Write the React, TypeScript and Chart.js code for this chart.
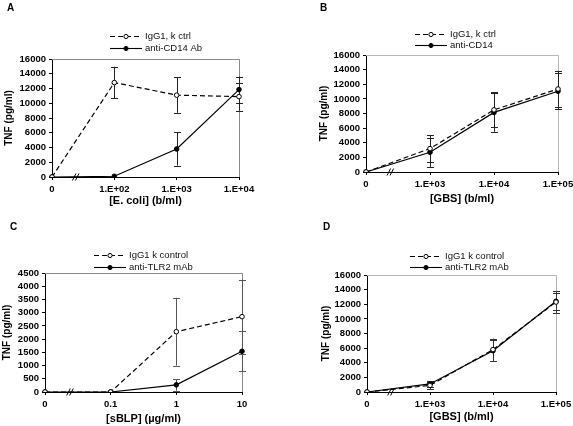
import React, { useEffect, useRef } from 'react';
import { Chart, registerables } from 'chart.js';

Chart.register(...registerables);

// ---------- Data ----------
const aCats = ['0', '1.E+02', '1.E+03', '1.E+04'];
const aCtrl = [0, 12800, 11100, 10900];
const aCtrlErr = [0, 2150, 2400, 1900];
const aAnti = [0, 100, 3800, 11850];
const aAntiErr = [0, 0, 2250, 1750];
const aNames = ['IgG1, k ctrl', 'anti-CD14 Ab'];
const aYTicks = [0, 16000, 2000];

const bCats = ['0', '1.E+03', '1.E+04', '1.E+05'];
const bCtrl = [0, 3200, 8500, 11350];
const bCtrlErr = [0, 1850, 2400, 2500];
const bAnti = [0, 2700, 8150, 11050];
const bAntiErr = [0, 2000, 2650, 2500];
const bNames = ['IgG1, k ctrl', 'anti-CD14'];
const bYTicks = [0, 16000, 2000];

const cCats = ['0', '0.1', '1', '10'];
const cCtrl = [0, 0, 2280, 2850];
const cCtrlErr = [0, 0, 1280, 1400];
const cAnti = [0, 0, 270, 1540];
const cAntiErr = [0, 0, 220, 750];
const cNames = ['IgG1 k control', 'anti-TLR2 mAb'];
const cYTicks = [0, 4500, 500];

const dCats = ['0', '1.E+03', '1.E+04', '1.E+05'];
const dCtrl = [0, 900, 5800, 12300];
const dCtrlErr = [0, 500, 1500, 1500];
const dAnti = [0, 1100, 5650, 12400];
const dAntiErr = [0, 400, 1450, 1200];
const dNames = ['IgG1 k control', 'anti-TLR2 mAb'];
const dYTicks = [0, 16000, 2000];

const FAMILY = 'Arial, "Liberation Sans", Helvetica, sans-serif';

type PanelCfg = {
  letter: string;
  cats: string[];
  ctrl: number[];
  ctrlErr: number[];
  anti: number[];
  antiErr: number[];
  names: string[];
  yTicks: number[];
  xTitle: string;
  x: number; y: number; w: number; h: number;
  L: number; T: number; R: number; B: number;
  padL: number; XH: number;
  legendX: number; legendY: number[];
  letterPos: number[];
  frame: string;
  errColor: string;
};

const panels: PanelCfg[] = [
  {
    letter: 'A', cats: aCats, ctrl: aCtrl, ctrlErr: aCtrlErr, anti: aAnti, antiErr: aAntiErr,
    names: aNames, yTicks: aYTicks, xTitle: '[E. coli] (b/ml)',
    x: 0, y: 0, w: 287, h: 210, L: 52, T: 59, R: 239, B: 177, padL: 3, XH: 31,
    legendX: 110, legendY: [36, 48], letterPos: [7, 3], frame: '#8a8a8a', errColor: '#222',
  },
  {
    letter: 'B', cats: bCats, ctrl: bCtrl, ctrlErr: bCtrlErr, anti: bAnti, antiErr: bAntiErr,
    names: bNames, yTicks: bYTicks, xTitle: '[GBS] (b/ml)',
    x: 286, y: 0, w: 287, h: 210, L: 80, T: 55, R: 272, B: 172, padL: 32, XH: 34,
    legendX: 129, legendY: [34, 45], letterPos: [34, 3], frame: '#b5b5b5', errColor: '#222',
  },
  {
    letter: 'C', cats: cCats, ctrl: cCtrl, ctrlErr: cCtrlErr, anti: cAnti, antiErr: cAntiErr,
    names: cNames, yTicks: cYTicks, xTitle: '[sBLP] (\u00b5g/ml)',
    x: 0, y: 210, w: 287, h: 216, L: 45, T: 63, R: 242, B: 182, padL: 1, XH: 34,
    legendX: 94, legendY: [45, 57], letterPos: [10, 12], frame: '#8a8a8a', errColor: '#555',
  },
  {
    letter: 'D', cats: dCats, ctrl: dCtrl, ctrlErr: dCtrlErr, anti: dAnti, antiErr: dAntiErr,
    names: dNames, yTicks: dYTicks, xTitle: '[GBS] (b/ml)',
    x: 286, y: 210, w: 287, h: 216, L: 81, T: 65, R: 270, B: 182, padL: 34, XH: 32,
    legendX: 124, legendY: [46, 57], letterPos: [37, 12], frame: '#b5b5b5', errColor: '#333',
  },
];

const decoPlugin = {
  id: 'deco',
  beforeDatasetsDraw(chart: any, _args: any, opts: any) {
    const ctx = chart.ctx;
    const ca = chart.chartArea;
    ctx.save();
    ctx.strokeStyle = opts.frame;
    ctx.lineWidth = 1;
    ctx.beginPath();
    ctx.moveTo(ca.left, ca.top + 0.5);
    ctx.lineTo(ca.right + 0.5, ca.top + 0.5);
    ctx.lineTo(ca.right + 0.5, ca.bottom);
    ctx.stroke();
    const ys = chart.scales.y;
    ctx.strokeStyle = opts.errColor;
    ctx.lineWidth = 1;
    opts.errs.forEach((errs: number[], di: number) => {
      const meta = chart.getDatasetMeta(di);
      const vals = chart.data.datasets[di].data as number[];
      errs.forEach((e, j) => {
        if (!e) return;
        const px = Math.round(meta.data[j].x) + 0.5;
        const yt = ys.getPixelForValue(vals[j] + e);
        const yb = ys.getPixelForValue(Math.max(0, vals[j] - e));
        ctx.beginPath();
        ctx.moveTo(px, yt);
        ctx.lineTo(px, yb);
        ctx.moveTo(px - 3.5, Math.round(yt) + 0.5);
        ctx.lineTo(px + 3.5, Math.round(yt) + 0.5);
        ctx.moveTo(px - 3.5, Math.round(yb) + 0.5);
        ctx.lineTo(px + 3.5, Math.round(yb) + 0.5);
        ctx.stroke();
      });
    });
    ctx.restore();
  },
  afterDraw(chart: any, _args: any, opts: any) {
    const ctx = chart.ctx;
    const ca = chart.chartArea;
    const xs = chart.scales.x;
    ctx.save();
    const x0 = xs.getPixelForValue(0);
    const x1 = xs.getPixelForValue(1);
    const bx = x0 + (x1 - x0) * 0.38;
    const by = ca.bottom;
    ctx.strokeStyle = '#000';
    ctx.lineWidth = 1;
    for (const dx of [-1.5, 1.5]) {
      ctx.beginPath();
      ctx.moveTo(bx + dx - 1.8, by + 3.5);
      ctx.lineTo(bx + dx + 1.8, by - 3.5);
      ctx.stroke();
    }
    ctx.font = `9.5px ${FAMILY}`;
    ctx.textBaseline = 'middle';
    ctx.textAlign = 'left';
    const lx = opts.legendX;
    const len = 32;
    chart.data.datasets.forEach((ds: any, i: number) => {
      const ly = opts.legendY[i];
      ctx.strokeStyle = '#000';
      ctx.lineWidth = 1.1;
      ctx.setLineDash(i === 0 ? [5, 3] : []);
      ctx.beginPath();
      ctx.moveTo(lx, ly + 0.5);
      ctx.lineTo(lx + len, ly + 0.5);
      ctx.stroke();
      ctx.setLineDash([]);
      ctx.beginPath();
      ctx.arc(lx + len / 2, ly + 0.5, 2.1, 0, Math.PI * 2);
      ctx.fillStyle = i === 0 ? '#fff' : '#000';
      ctx.fill();
      ctx.lineWidth = 1;
      ctx.stroke();
      ctx.fillStyle = '#111';
      ctx.fillText(ds.label, lx + len + 3, ly + 0.5);
    });
    ctx.font = `bold 10px ${FAMILY}`;
    ctx.textBaseline = 'top';
    ctx.fillStyle = '#000';
    ctx.fillText(opts.letter, opts.letterPos[0], opts.letterPos[1]);
    ctx.restore();
  },
};

function Panel({ cfg }: { cfg: PanelCfg }) {
  const ref = useRef<HTMLCanvasElement>(null);
  useEffect(() => {
    const YW = cfg.L - cfg.padL;
    const tickFont = { family: FAMILY, size: 9.5, weight: 'bold' as const };
    const chart = new Chart(ref.current!, {
      type: 'line',
      data: {
        labels: cfg.cats,
        datasets: [
          {
            label: cfg.names[0], data: cfg.ctrl, borderColor: '#000', borderWidth: 1.2,
            borderDash: [5, 3], pointRadius: 2.3, pointBackgroundColor: '#fff',
            pointBorderColor: '#000', pointBorderWidth: 1, tension: 0, fill: false,
          },
          {
            label: cfg.names[1], data: cfg.anti, borderColor: '#000', borderWidth: 1.2,
            pointRadius: 2.3, pointBackgroundColor: '#000', pointBorderColor: '#000',
            pointBorderWidth: 1, tension: 0, fill: false,
          },
        ],
      },
      options: {
        responsive: false,
        animation: false,
        devicePixelRatio: 1,
        events: [],
        layout: {
          padding: {
            left: cfg.padL,
            right: cfg.w - cfg.R,
            top: cfg.T,
            bottom: cfg.h - cfg.B - cfg.XH,
          },
        },
        plugins: {
          legend: { display: false },
          tooltip: { enabled: false },
          deco: {
            errs: [cfg.ctrlErr, cfg.antiErr],
            frame: cfg.frame,
            errColor: cfg.errColor,
            legendX: cfg.legendX,
            legendY: cfg.legendY,
            letter: cfg.letter,
            letterPos: cfg.letterPos,
          },
        } as any,
        scales: {
          x: {
            type: 'category',
            offset: false,
            grid: { drawOnChartArea: false, drawTicks: true, tickLength: 3, color: '#000' },
            border: { display: true, color: '#000', width: 1 },
            ticks: { font: tickFont, color: '#000', padding: 4, maxRotation: 0, autoSkip: false },
            title: {
              display: true, text: cfg.xTitle, color: '#000',
              font: { family: FAMILY, size: 11, weight: 'bold' }, padding: { top: 0, bottom: 0 },
            },
            afterFit: (s: any) => {
              s.height = cfg.XH;
              s.paddingLeft = 0;
              s.paddingRight = 0;
            },
          },
          y: {
            type: 'linear',
            min: cfg.yTicks[0],
            max: cfg.yTicks[1],
            grid: { drawOnChartArea: false, drawTicks: true, tickLength: 3, color: '#000' },
            border: { display: true, color: '#000', width: 1 },
            ticks: {
              stepSize: cfg.yTicks[2], font: tickFont, color: '#000', padding: 3,
              autoSkip: false, callback: (v: any) => String(v),
            },
            title: {
              display: true, text: 'TNF (pg/ml)', color: '#000',
              font: { family: FAMILY, size: 10, weight: 'bold' }, padding: { top: 0, bottom: 0 },
            },
            afterFit: (s: any) => {
              s.width = YW;
              s.paddingTop = 0;
              s.paddingBottom = 0;
            },
          },
        },
      },
      plugins: [decoPlugin as any],
    });
    return () => chart.destroy();
  }, [cfg]);
  return (
    <canvas
      ref={ref}
      width={cfg.w}
      height={cfg.h}
      style={{ position: 'absolute', left: cfg.x, top: cfg.y, width: cfg.w, height: cfg.h }}
    />
  );
}

export default function App() {
  return (
    <div style={{ position: 'absolute', left: 0, top: 0, width: 573, height: 426, background: '#fff' }}>
      {panels.map((p) => (
        <Panel key={p.letter} cfg={p} />
      ))}
    </div>
  );
}
